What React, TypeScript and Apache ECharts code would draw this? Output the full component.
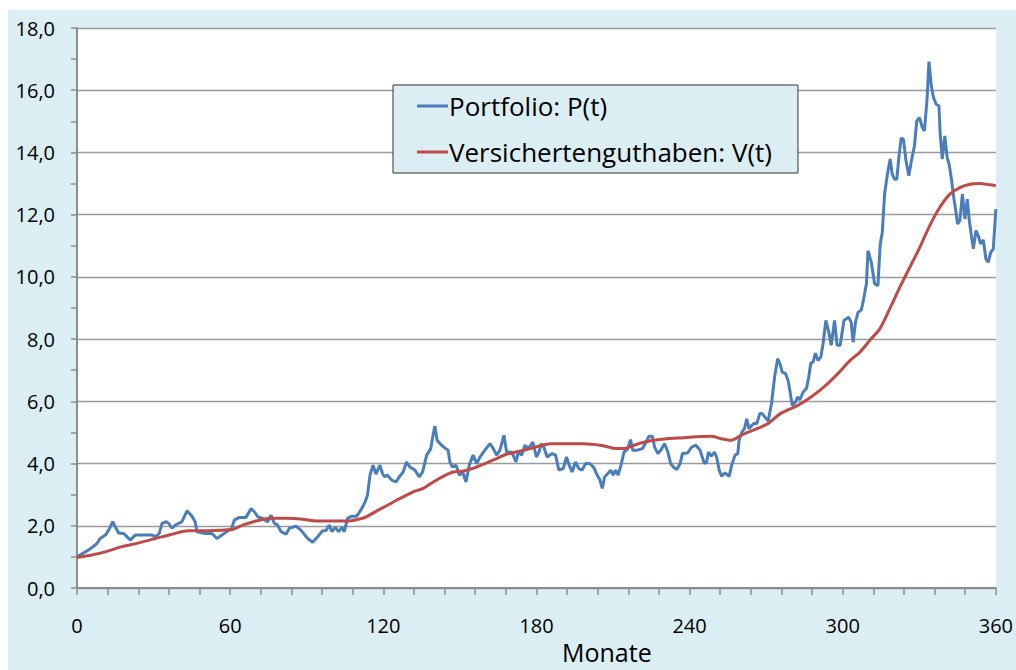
import React, { useEffect, useRef } from "react";
import * as echarts from "echarts";

const xTicks = [0, 60, 120, 180, 240, 300, 360];
const yTicks = [0, 2, 4, 6, 8, 10, 12, 14, 16, 18];
const xTitle = "Monate";

const pMonths = [
  0, 3.3, 5.9, 7.8, 9.1, 11.1, 12.4, 14.0, 15.0, 16.3, 18.3, 20.9, 22.8, 29.4, 30.7, 32.2, 33.3, 34.9, 35.9, 37.2,
  38.5, 41.1, 43.1, 45.0, 46.3, 47.0, 50.3, 52.9, 54.8, 56.8, 59.4, 60.5, 61.6, 63.6, 66.2, 68.2, 69.5, 70.8, 72.7,
  74.7, 76.0, 77.3, 78.6, 79.9, 81.9, 83.2, 85.8, 87.7, 90.4, 92.3, 94.3, 96.2, 97.5, 98.8, 99.9, 101.2, 102.5, 103.8,
  104.7, 106.0, 107.7, 109.6, 111.2, 112.9, 113.8, 114.8, 116.0, 117.1, 118.7, 119.7, 120.6, 121.5, 123.3, 125.0,
  126.2, 127.8, 129.1, 130.4, 132.4, 134.1, 135.4, 137.0, 138.6, 139.6, 140.2, 141.1, 142.8, 144.5, 145.4, 146.1,
  147.1, 148.5, 149.8, 151.1, 152.4, 153.7, 155.2, 156.6, 157.9, 159.8, 161.8, 163.1, 164.4, 165.7, 167.3, 168.3,
  169.9, 170.9, 172.0, 172.9, 174.2, 175.5, 176.8, 178.6, 180.0, 181.0, 181.9, 182.9, 184.2, 186.2, 187.5, 188.8,
  190.5, 191.8, 193.1, 194.0, 195.3, 196.6, 197.9, 199.2, 200.9, 202.5, 203.8, 204.9, 205.8, 206.7, 208.0, 209.1,
  210.1, 211.0, 212.0, 213.3, 214.3, 215.6, 216.9, 217.7, 219.5, 221.5, 222.8, 224.1, 225.4, 226.3, 227.6, 228.9,
  230.2, 231.5, 232.6, 233.6, 235.0, 236.3, 237.2, 239.2, 240.8, 242.5, 244.1, 245.8, 246.7, 247.4, 248.5, 249.7,
  250.6, 251.6, 252.6, 253.9, 255.5, 256.5, 257.8, 258.9, 259.4, 260.5, 261.5, 262.4, 263.3, 264.4, 265.4, 266.3,
  267.6, 268.5, 269.5, 270.8, 272.1, 273.4, 274.5, 275.4, 276.3, 277.6, 278.6, 279.3, 280.2, 281.5, 282.3, 283.2,
  284.5, 285.8, 286.7, 287.5, 288.4, 289.3, 290.3, 291.4, 292.3, 293.4, 294.6, 295.5, 296.8, 297.8, 299.0, 300.5,
  302.3, 303.3, 304.1, 305.0, 306.0, 307.3, 308.2, 309.3, 309.9, 311.2, 312.5, 313.8, 314.7, 315.5, 316.4, 317.5,
  318.6, 319.4, 320.3, 321.2, 322.0, 322.9, 323.8, 324.8, 325.9, 326.8, 328.1, 329.0, 330.1, 331.1, 332.0, 333.0,
  333.8, 334.7, 335.6, 336.6, 337.7, 338.2, 339.0, 340.0, 340.9, 341.7, 342.6, 343.5, 344.3, 345.0, 345.9, 346.9,
  347.9, 348.8, 349.6, 350.5, 351.2, 352.2, 353.1, 354.0, 355.1, 356.1, 357.0, 358.0, 359.0, 360.0,
];
const pValues = [
  1.0, 1.16, 1.3, 1.43, 1.59, 1.7, 1.86, 2.13, 1.97, 1.77, 1.75, 1.54, 1.7, 1.7, 1.65, 1.75, 2.08, 2.13, 2.08, 1.92,
  2.02, 2.13, 2.48, 2.31, 2.13, 1.81, 1.75, 1.75, 1.59, 1.7, 1.86, 1.9, 2.18, 2.27, 2.27, 2.55, 2.45, 2.29, 2.24,
  2.13, 2.34, 2.08, 2.02, 1.81, 1.73, 1.92, 1.99, 1.86, 1.59, 1.47, 1.65, 1.84, 1.84, 2.02, 1.81, 1.95, 1.81, 1.95,
  1.81, 2.24, 2.31, 2.31, 2.5, 2.77, 2.98, 3.63, 3.95, 3.66, 3.95, 3.68, 3.57, 3.63, 3.47, 3.41,
  3.57, 3.73, 4.05, 3.89, 3.79, 3.57, 3.73, 4.27, 4.48, 4.96, 5.2, 4.75, 4.59, 4.48, 4.43, 4.05,
  3.89, 3.95, 3.63, 3.73, 3.41, 3.95, 4.27, 4.0, 4.21, 4.43, 4.64, 4.48, 4.27, 4.43, 4.91, 4.37,
  4.37, 4.27, 4.05, 4.37, 4.27, 4.59, 4.48, 4.69, 4.21, 4.37, 4.64, 4.53, 4.21, 4.32, 4.27, 3.79,
  3.84, 4.21, 3.89, 3.73, 4.05, 3.84, 3.79, 4.0, 4.0, 3.87, 3.63, 3.47, 3.2, 3.57, 3.68, 3.79,
  3.63, 3.79, 3.63, 4.0, 4.37, 4.45, 4.77, 4.43, 4.43, 4.48, 4.66, 4.88, 4.88, 4.53, 4.32, 4.45,
  4.64, 4.37, 4.0, 3.89, 3.81, 4.0, 4.32, 4.34, 4.53, 4.59, 4.43, 4.0, 4.05, 4.37, 4.24, 4.37,
  4.21, 3.79, 3.59, 3.7, 3.59, 3.95, 4.27, 4.32, 4.75, 5.01, 5.12, 5.44, 5.12, 5.23, 5.3, 5.28,
  5.62, 5.6, 5.5, 5.37, 5.93, 6.83, 7.37, 7.21, 6.94, 6.89, 6.67, 6.35, 5.87, 5.98, 6.14, 6.05,
  6.3, 6.41, 6.78, 7.23, 7.26, 7.55, 7.31, 7.42, 7.85, 8.6, 8.2, 7.8, 8.6, 7.8, 7.8, 8.6,
  8.7, 8.55, 7.9, 8.54, 8.86, 8.94, 9.29, 9.78, 10.84, 10.47, 9.78, 9.72, 11.06, 11.43, 12.66, 13.3,
  13.79, 13.3, 13.14, 13.14, 13.84, 14.46, 14.43, 13.73, 13.25, 13.68, 14.21, 15.01, 15.12, 14.82, 14.69, 15.66,
  16.92, 16.14, 15.76, 15.55, 15.5, 14.59, 13.79, 14.53, 13.84, 13.62, 13.14, 12.55, 12.13, 11.7, 11.81, 12.66,
  11.86, 12.5, 11.81, 11.27, 10.9, 11.49, 11.33, 11.06, 11.19, 10.58, 10.47, 10.79, 10.9, 12.18,
];

const vMonths = [
  0, 5.9, 11.1, 17.6, 24.2, 30.7, 37.2, 43.7, 50.3, 56.8, 60.7, 64.9, 71.4, 76.6, 81.9, 88.4, 93.6, 100.1, 105.4,
  111.9, 114.5, 118.4, 121.7, 125.2, 131.7, 135.6, 139.6, 143.5, 147.4, 151.3, 156.6, 160.5, 164.4, 168.3, 173.5,
  178.7, 185.5, 192.0, 198.6, 205.1, 211.6, 214.3, 218.2, 224.7, 231.2, 237.8, 242.3, 248.4, 252.4, 256.3, 260.2,
  265.4, 270.6, 275.9, 282.4, 287.6, 292.9, 298.1, 302.8, 306.7, 310.6, 314.5, 318.4, 322.4, 326.3, 330.2, 334.1,
  338.0, 342.0, 345.9, 349.8, 353.7, 357.6, 360,
];
const vValues = [
  0.98, 1.06, 1.16, 1.33, 1.45, 1.59, 1.73, 1.84, 1.84, 1.86, 1.88, 2.02, 2.18, 2.24, 2.24, 2.21, 2.15, 2.15, 2.15,
  2.24, 2.34, 2.52, 2.66, 2.82, 3.09, 3.2, 3.41, 3.59, 3.73, 3.76, 3.89, 4.02, 4.16, 4.3, 4.4,
  4.51, 4.64, 4.64, 4.64, 4.59, 4.48, 4.48, 4.59, 4.73, 4.8, 4.83, 4.86, 4.88, 4.8, 4.75, 4.91,
  5.09, 5.28, 5.62, 5.87, 6.14, 6.48, 6.89, 7.31, 7.58, 7.96, 8.33, 8.97, 9.67, 10.31, 10.95, 11.65,
  12.23, 12.66, 12.87, 12.98, 13.0, 12.96, 12.93,
];

const FONT = "'Open Sans', sans-serif";
const P_COLOR = "#4A7EBB";
const V_COLOR = "#BE4B48";

export default function App() {
  const ref = useRef<HTMLDivElement>(null);
  useEffect(() => {
    document.documentElement.style.overflow = "hidden";
    document.body.style.overflow = "hidden";
    if (!ref.current) return;
    const chart = echarts.init(ref.current, null, { renderer: "svg" });
    const pData = pMonths.map((m, i) => [m, pValues[i]]);
    const vData = vMonths.map((m, i) => [m, vValues[i]]);
    chart.setOption({
      animation: false,
      backgroundColor: "#DAEEF3",
      textStyle: { fontFamily: FONT },
      grid: {
        left: 69,
        right: 20,
        top: 18,
        bottom: 82,
        show: true,
        backgroundColor: "#ffffff",
        borderWidth: 0,
      },
      legend: {
        orient: "vertical",
        left: 385,
        top: 75,
        padding: [6, 26, 6, 24],
        itemGap: 16,
        itemWidth: 31,
        itemHeight: 3,
        backgroundColor: "#DAEEF3",
        borderColor: "#333333",
        borderWidth: 1,
        textStyle: { fontFamily: FONT, fontSize: 26, color: "#000", lineHeight: 30, padding: [0, 0, 0, -4] },
        data: [
          { name: "Portfolio: P(t)", icon: "rect", itemStyle: { color: P_COLOR } },
          { name: "Versichertenguthaben: V(t)", icon: "rect", itemStyle: { color: V_COLOR } },
        ],
      },
      graphic: [
        {
          type: "text",
          left: 600 - 46,
          top: 629,
          style: { text: xTitle, font: `25px ${FONT}`, fill: "#000" },
        },
      ],
      xAxis: {
        type: "value",
        min: xTicks[0],
        max: xTicks[xTicks.length - 1],
        interval: 60,
        axisLine: { show: true, onZero: false, lineStyle: { color: "#8c8c8c", width: 2 } },
        axisTick: { show: true, length: 7, lineStyle: { color: "#8c8c8c", width: 1.5 } },
        minorTick: { show: true, splitNumber: 5, length: 7, lineStyle: { color: "#8c8c8c", width: 1.5 } },
        axisLabel: { fontFamily: FONT, fontSize: 20, color: "#000", margin: 27 },
        splitLine: { show: false },
      },
      yAxis: {
        type: "value",
        min: yTicks[0],
        max: yTicks[yTicks.length - 1],
        interval: 2,
        axisLine: { show: true, lineStyle: { color: "#8c8c8c", width: 2 } },
        axisTick: { show: true, length: 6, lineStyle: { color: "#8c8c8c", width: 1.5 } },
        minorTick: { show: true, splitNumber: 2, length: 6, lineStyle: { color: "#8c8c8c", width: 1.5 } },
        axisLabel: {
          fontFamily: FONT,
          fontSize: 20,
          color: "#000",
          margin: 22,
          formatter: (v: number) => v.toFixed(1).replace(".", ","),
        },
        splitLine: { show: true, lineStyle: { color: "#9a9a9a", width: 1.3 } },
      },
      series: [
        {
          name: "Portfolio: P(t)",
          type: "line",
          data: pData,
          symbol: "none",
          lineStyle: { color: P_COLOR, width: 3 },
          itemStyle: { color: P_COLOR },
          z: 2,
        },
        {
          name: "Versichertenguthaben: V(t)",
          type: "line",
          data: vData,
          symbol: "none",
          smooth: 0.3,
          lineStyle: { color: V_COLOR, width: 3 },
          itemStyle: { color: V_COLOR },
          z: 3,
        },
      ],
    });
    return () => chart.dispose();
  }, []);
  return (
    <div ref={ref} style={{ position: "fixed", left: 8, top: 10, width: 1008, height: 660 }} />
  );
}
